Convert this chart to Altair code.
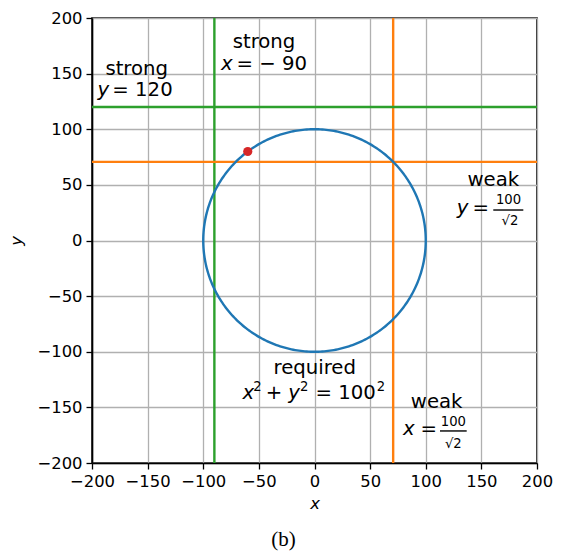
import altair as alt
import pandas as pd

# ---- data ----
RADIUS = [100]
VLINE_X = [-90, 70.71]
VLINE_COLOR = ["#2ca02c", "#ff7f0e"]
HLINE_Y = [120, 70.71]
HLINE_COLOR = ["#2ca02c", "#ff7f0e"]
POINT_X = [-60]
POINT_Y = [80]
TICKS = [-200, -150, -100, -50, 0, 50, 100, 150, 200]

# annotation pieces (data coordinates)
WORD_TEXT = ["strong", "strong", "required", "weak", "weak"]
WORD_X = [-159.8, -45.4, 0.2, 109.8, 160.7]
WORD_Y = [148.8, 172.8, -120.0, -150.8, 49.0]

ITAL_TEXT = ["y", "x", "x", "y", "x", "y"]
ITAL_X = [-189.8, -78.9, -59.5, -18.4, 84.9, 133.0]
ITAL_Y = [129.9, 153.3, -142.7, -142.7, -174.8, 23.8]

NORM_TEXT = ["= 120", "= \u2212 90", "+", "= 100", "=", "="]
NORM_X = [-154.6, -38.5, -36.4, 28.0, 102.7, 149.5]
NORM_Y = [129.9, 153.3, -142.7, -142.7, -174.8, 23.8]

SMALL_TEXT = ["2", "2", "2", "100", "\u221a2", "100", "\u221a2"]
SMALL_X = [-51.4, -9.2, 59.8, 124.8, 124.8, 174.4, 175.7]
SMALL_Y = [-135.3, -135.3, -135.3, -166.7, -186.8, 32.5, 13.9]

FRAC_X1 = [112.8, 160.7]
FRAC_X2 = [136.8, 187.7]
FRAC_Y = [-171.2, 27.4]

FONT = "DejaVu Sans"

xscale = alt.Scale(domain=[-200, 200], nice=False, zero=False)
yscale = alt.Scale(domain=[-200, 200], nice=False, zero=False)
xaxis = alt.Axis(values=TICKS, title="x", titleFontStyle="italic",
                 labelOverlap=False, labelFlush=False, labelBound=False)
yaxis = alt.Axis(values=TICKS, title="y", titleFontStyle="italic",
                 labelOverlap=False, labelFlush=False, labelBound=False)

vdf = pd.DataFrame({"x": VLINE_X, "c": VLINE_COLOR})
hdf = pd.DataFrame({"y": HLINE_Y, "c": HLINE_COLOR})

vlines = alt.Chart(vdf).mark_rule(strokeWidth=2.4).encode(
    x=alt.X("x:Q", scale=xscale, axis=xaxis),
    color=alt.Color("c:N", scale=None),
)
hlines = alt.Chart(hdf).mark_rule(strokeWidth=2.4).encode(
    y=alt.Y("y:Q", scale=yscale, axis=yaxis),
    color=alt.Color("c:N", scale=None),
)

circle = (
    alt.Chart(alt.sequence(0, 361, 1, as_="deg"))
    .transform_calculate(
        x=f"{RADIUS[0]} * cos(datum.deg * PI / 180)",
        y=f"{RADIUS[0]} * sin(datum.deg * PI / 180)",
    )
    .mark_line(color="#1f77b4", strokeWidth=2.4)
    .encode(
        x=alt.X("x:Q", scale=xscale, axis=xaxis),
        y=alt.Y("y:Q", scale=yscale, axis=yaxis),
        order="deg:Q",
    )
)

point = alt.Chart(pd.DataFrame({"x": POINT_X, "y": POINT_Y})).mark_point(
    filled=True, color="#d62728", size=85, opacity=1
).encode(
    x=alt.X("x:Q", scale=xscale, axis=xaxis),
    y=alt.Y("y:Q", scale=yscale, axis=yaxis),
)


def text_layer(texts, xs, ys, size, style="normal"):
    df = pd.DataFrame({"t": texts, "x": xs, "y": ys})
    return alt.Chart(df).mark_text(
        font=FONT, fontSize=size, fontStyle=style, align="center",
        baseline="alphabetic", color="black"
    ).encode(
        x=alt.X("x:Q", scale=xscale, axis=xaxis),
        y=alt.Y("y:Q", scale=yscale, axis=yaxis),
        text="t:N",
    )


words = text_layer(WORD_TEXT, WORD_X, WORD_Y, 19.7)
itals = text_layer(ITAL_TEXT, ITAL_X, ITAL_Y, 19.7, "italic")
norms = text_layer(NORM_TEXT, NORM_X, NORM_Y, 19.7)
smalls = text_layer(SMALL_TEXT, SMALL_X, SMALL_Y, 13.2)

fracs = alt.Chart(pd.DataFrame({"x": FRAC_X1, "x2": FRAC_X2, "y": FRAC_Y})).mark_rule(
    color="black", strokeWidth=1.4
).encode(
    x=alt.X("x:Q", scale=xscale, axis=xaxis),
    x2="x2:Q",
    y=alt.Y("y:Q", scale=yscale, axis=yaxis),
)

chart = (
    alt.layer(vlines, hlines, circle, point, words, itals, norms, smalls, fracs)
    .properties(
        width=445,
        height=445,
        autosize=alt.AutoSizeParams(type="none"),
        padding={"left": 92, "top": 18, "right": 24, "bottom": 89},
        title=alt.TitleParams(
            "(b)", orient="bottom", font="Liberation Serif", fontSize=21,
            fontWeight="normal", color="black", offset=17, anchor="middle",
            dx=-31,
        ),
    )
    .configure_view(stroke="black", strokeWidth=1.6)
    .configure_axis(
        grid=True,
        gridColor="#b0b0b0",
        gridWidth=1.3,
        domainColor="black",
        domainWidth=1.6,
        tickColor="black",
        tickWidth=1.3,
        tickSize=6,
        labelFont=FONT,
        labelFontSize=16.4,
        labelColor="black",
        labelPadding=4,
        titleFont=FONT,
        titleFontSize=16.4,
        titleFontWeight="normal",
        titleColor="black",
    )
    .configure_axisY(titlePadding=12)
    .configure_axisX(titlePadding=6)
)

chart.save("out.html", embed_options={"renderer": "svg", "actions": False})
